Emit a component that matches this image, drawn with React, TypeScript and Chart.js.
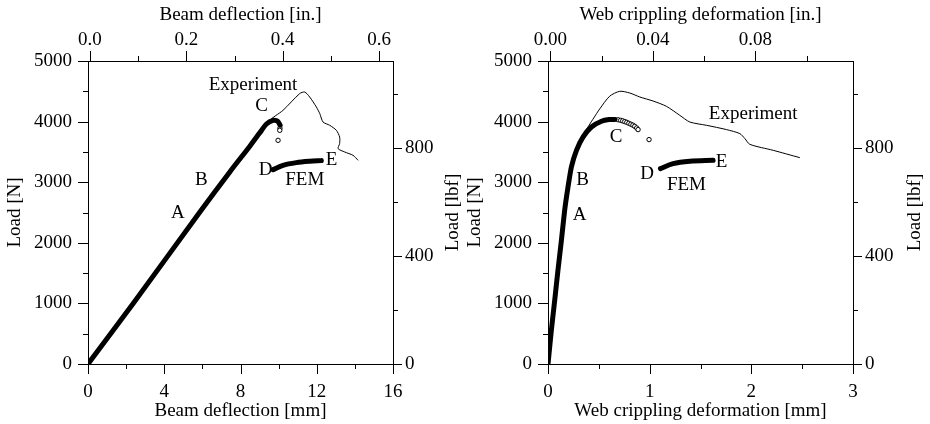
import React, { useEffect, useRef } from "react";
import { Chart, registerables } from "chart.js";

Chart.register(...registerables);

const FONT = '"Liberation Serif", "DejaVu Serif", "Times New Roman", serif';
const FONT_SIZE = 19;
const N_TO_LBF = 0.224809;
const N_MAX = 5000;

// ---------- Left panel: beam deflection ----------
const beamFemX = [0, 2.37, 5.86, 7.44, 8.48, 9.0, 9.36, 9.71, 9.95, 10.08];
const beamFemY = [0, 1000, 2503, 3170, 3590, 3810, 3960, 4021, 4005, 3940];
const beamFemCircX = [10.07, 10.06, 9.97];
const beamFemCircY = [3890, 3856, 3691];
const beamFemDEX = [9.71, 10.23, 10.93, 11.63, 12.24];
const beamFemDEY = [3207, 3279, 3323, 3345, 3356];
const beamExpX = [0, 9.44, 10.23, 11.1, 11.37, 11.63, 11.98, 12.16, 12.33, 12.68, 13.03, 13.2, 13.2, 13.12, 13.47, 13.9, 14.17];
const beamExpY = [0, 3993, 4186, 4461, 4488, 4406, 4241, 4131, 3993, 3939, 3856, 3746, 3637, 3554, 3498, 3444, 3361];

const beamXMajor = [0, 4, 8, 12, 16];
const beamXMinor = [2, 6, 10, 14];
const beamTopMajor = [0, 0.2, 0.4, 0.6];
const beamTopLabels = ["0.0", "0.2", "0.4", "0.6"];
const beamTopMinor = [0.1, 0.3, 0.5];
const beamLabels = ["A", "B", "C", "D", "E", "FEM", "Experiment"];
const beamLabelX = [4.71, 5.95, 9.1, 9.32, 12.77, 11.37, 8.66];
const beamLabelY = [2487, 3031, 4252, 3196, 3372, 3031, 4599];

// ---------- Right panel: web crippling deformation ----------
const webFemX = [0, 0.033, 0.066, 0.098, 0.132, 0.164, 0.197, 0.23, 0.28, 0.344, 0.427, 0.526, 0.6, 0.66];
const webFemY = [0, 556, 1051, 1546, 2041, 2536, 2921, 3251, 3526, 3745, 3911, 4005, 4033, 4035];
const webFemCircX = [0.69, 0.715, 0.735, 0.755, 0.775, 0.795, 0.815, 0.835, 0.853, 0.872, 0.886, 0.994];
const webFemCircY = [4030, 4021, 4012, 4000, 3988, 3972, 3957, 3942, 3922, 3895, 3868, 3703];
const webFemDEX = [1.106, 1.23, 1.395, 1.624];
const webFemDEY = [3224, 3306, 3345, 3361];
const webExpX = [0, 0.098, 0.197, 0.28, 0.344, 0.4, 0.45, 0.509, 0.607, 0.706, 0.804, 0.903, 1.033, 1.165, 1.296, 1.395, 1.559, 1.756, 1.887, 1.937, 1.985, 2.215, 2.477];
const webExpY = [0, 1546, 2921, 3540, 3770, 3930, 4060, 4210, 4420, 4500, 4472, 4406, 4340, 4252, 4104, 3993, 3939, 3868, 3802, 3719, 3625, 3526, 3405];

const webXMajor = [0, 1, 2, 3];
const webXMinor = [0.5, 1.5, 2.5];
const webTopMajor = [0, 0.04, 0.08];
const webTopLabels = ["0.00", "0.04", "0.08"];
const webTopMinor = [0.02, 0.06, 0.1];
const webLabels = ["A", "B", "C", "D", "E", "FEM", "Experiment"];
const webLabelX = [0.311, 0.339, 0.67, 0.974, 1.707, 1.362, 2.018];
const webLabelY = [2454, 3031, 3746, 3141, 3333, 2949, 4131];

// ---------- Shared load axes ----------
const loadMajor = [0, 1000, 2000, 3000, 4000, 5000];
const loadMinor = [500, 1500, 2500, 3500, 4500];
const lbfMajor = [0, 400, 800];
const lbfMinor = [200, 600, 1000];

type PanelDef = {
  width: number;
  left: number;
  rightAxisWidth: number;
  rightTitleOffset: number;
  xTitle: string;
  topTitle: string;
  xMax: number;
  topMin: number;
  topMax: number;
  xMajor: number[];
  xMinor: number[];
  topMajor: number[];
  topLabels: string[];
  topMinor: number[];
  femX: number[];
  femY: number[];
  circX: number[];
  circY: number[];
  deX: number[];
  deY: number[];
  expX: number[];
  expY: number[];
  labels: string[];
  labelX: number[];
  labelY: number[];
};

const panels: PanelDef[] = [
  {
    width: 465, left: 0, rightAxisWidth: 72, rightTitleOffset: 12,
    xTitle: "Beam deflection [mm]", topTitle: "Beam deflection [in.]",
    xMax: 16, topMin: -0.00415, topMax: 0.629,
    xMajor: beamXMajor, xMinor: beamXMinor, topMajor: beamTopMajor, topLabels: beamTopLabels, topMinor: beamTopMinor,
    femX: beamFemX, femY: beamFemY, circX: beamFemCircX, circY: beamFemCircY,
    deX: beamFemDEX, deY: beamFemDEY, expX: beamExpX, expY: beamExpY,
    labels: beamLabels, labelX: beamLabelX, labelY: beamLabelY,
  },
  {
    width: 470, left: 460, rightAxisWidth: 77, rightTitleOffset: 15,
    xTitle: "Web crippling deformation [mm]", topTitle: "Web crippling deformation [in.]",
    xMax: 3, topMin: -0.0009, topMax: 0.1181,
    xMajor: webXMajor, xMinor: webXMinor, topMajor: webTopMajor, topLabels: webTopLabels, topMinor: webTopMinor,
    femX: webFemX, femY: webFemY, circX: webFemCircX, circY: webFemCircY,
    deX: webFemDEX, deY: webFemDEY, expX: webExpX, expY: webExpY,
    labels: webLabels, labelX: webLabelX, labelY: webLabelY,
  },
];

const pts = (xs: number[], ys: number[]) => xs.map((x, i) => ({ x, y: ys[i] }));

function makeTickPlugin(p: PanelDef) {
  return {
    id: "tickMarks",
    afterDraw(chart: any) {
      const ctx = chart.ctx as CanvasRenderingContext2D;
      const ca = chart.chartArea;
      ctx.save();
      ctx.strokeStyle = "#000";
      ctx.lineWidth = 1;
      const specs: [string, number[], number][] = [
        ["x", p.xMajor, 10], ["x", p.xMinor, 5],
        ["xTop", p.topMajor, 10], ["xTop", p.topMinor, 5],
        ["y", loadMajor, 10], ["y", loadMinor, 5],
        ["yRight", lbfMajor, 9], ["yRight", lbfMinor, 5],
      ];
      for (const [id, vals, len] of specs) {
        const s = chart.scales[id];
        for (const v of vals) {
          const px = Math.round(s.getPixelForValue(v)) + 0.5;
          ctx.beginPath();
          if (id === "x") { ctx.moveTo(px, ca.bottom); ctx.lineTo(px, ca.bottom + len); }
          else if (id === "xTop") { ctx.moveTo(px, ca.top); ctx.lineTo(px, ca.top - len); }
          else if (id === "y") { ctx.moveTo(ca.left, px); ctx.lineTo(ca.left - len, px); }
          else { ctx.moveTo(ca.right, px); ctx.lineTo(ca.right + len, px); }
          ctx.stroke();
        }
      }
      // right-hand axis title, reading bottom-to-top like the left one
      ctx.fillStyle = "#000";
      ctx.font = `${FONT_SIZE}px ${FONT}`;
      ctx.textAlign = "center";
      ctx.textBaseline = "middle";
      ctx.translate(chart.width - p.rightTitleOffset, (ca.top + ca.bottom) / 2);
      ctx.rotate(-Math.PI / 2);
      ctx.fillText("Load [lbf]", 0, 0);
      ctx.restore();
    },
  };
}

function makeLabelPlugin(p: PanelDef) {
  return {
    id: "textLabels",
    afterDatasetsDraw(chart: any) {
      const ctx = chart.ctx as CanvasRenderingContext2D;
      const sx = chart.scales.x;
      const sy = chart.scales.y;
      ctx.save();
      ctx.fillStyle = "#000";
      ctx.font = `${FONT_SIZE}px ${FONT}`;
      ctx.textAlign = "center";
      ctx.textBaseline = "middle";
      p.labels.forEach((t, i) => {
        ctx.fillText(t, sx.getPixelForValue(p.labelX[i]), sy.getPixelForValue(p.labelY[i]));
      });
      ctx.restore();
    },
  };
}

function buildConfig(p: PanelDef): any {
  const font = { family: FONT, size: FONT_SIZE };
  const fixedTicks = (vals: number[]) => (scale: any) => {
    scale.ticks = vals.map((v) => ({ value: v }));
  };
  return {
    type: "scatter",
    data: {
      datasets: [
        {
          label: "FEM",
          data: pts(p.femX, p.femY),
          showLine: true,
          borderColor: "#000",
          borderWidth: 5,
          borderCapStyle: "round",
          borderJoinStyle: "round",
          pointRadius: 0,
          tension: 0.2,
          order: 1,
        },
        {
          label: "FEM post-peak",
          data: pts(p.circX, p.circY),
          showLine: false,
          borderColor: "#000",
          backgroundColor: "#fff",
          pointRadius: 2.2,
          pointBorderWidth: 1,
          order: 1,
        },
        {
          label: "FEM D-E",
          data: pts(p.deX, p.deY),
          showLine: true,
          borderColor: "#000",
          borderWidth: 5,
          borderCapStyle: "round",
          pointRadius: 0,
          tension: 0.3,
          order: 1,
        },
        {
          label: "Experiment",
          data: pts(p.expX, p.expY),
          showLine: true,
          borderColor: "#000",
          borderWidth: 1,
          pointRadius: 0,
          tension: 0.25,
          order: 2,
        },
      ],
    },
    options: {
      animation: false,
      responsive: false,
      events: [],
      layout: { padding: 0 },
      plugins: { legend: { display: false }, tooltip: { enabled: false }, title: { display: false } },
      scales: {
        x: {
          type: "linear", position: "bottom", min: 0, max: p.xMax,
          afterBuildTicks: fixedTicks(p.xMajor),
          afterFit: (s: any) => { s.height = 60; },
          grid: { display: false, drawTicks: false },
          border: { display: true, color: "#000", width: 1 },
          ticks: { color: "#000", font, padding: 17, autoSkip: false, maxRotation: 0, callback: (v: number) => String(v) },
          title: { display: true, text: p.xTitle, color: "#000", font, padding: { top: 0, bottom: 2 } },
        },
        xTop: {
          type: "linear", position: "top", min: p.topMin, max: p.topMax,
          afterBuildTicks: fixedTicks(p.topMajor),
          afterFit: (s: any) => { s.height = 61; },
          grid: { display: false, drawTicks: false },
          border: { display: true, color: "#000", width: 1 },
          ticks: {
            color: "#000", font, padding: 10, autoSkip: false, maxRotation: 0,
            callback: (_v: number, i: number) => p.topLabels[i],
          },
          title: { display: true, text: p.topTitle, color: "#000", font, padding: { top: 4, bottom: 0 } },
        },
        y: {
          type: "linear", position: "left", min: 0, max: N_MAX,
          afterBuildTicks: fixedTicks(loadMajor),
          afterFit: (s: any) => { s.width = 88; },
          grid: { display: false, drawTicks: false },
          border: { display: true, color: "#000", width: 1 },
          ticks: { color: "#000", font, padding: 16, autoSkip: false, callback: (v: number) => String(v) },
          title: { display: true, text: "Load [N]", color: "#000", font, padding: { top: 4, bottom: 0 } },
        },
        yRight: {
          type: "linear", position: "right", min: 0, max: N_MAX * N_TO_LBF,
          afterBuildTicks: fixedTicks(lbfMajor),
          afterFit: (s: any) => { s.width = p.rightAxisWidth; },
          grid: { display: false, drawTicks: false },
          border: { display: true, color: "#000", width: 1 },
          ticks: { color: "#000", font, padding: 12, autoSkip: false, callback: (v: number) => String(v) },
          title: { display: false },
        },
      },
    },
    plugins: [makeTickPlugin(p), makeLabelPlugin(p)],
  };
}

function PanelChart({ p }: { p: PanelDef }) {
  const ref = useRef<HTMLCanvasElement | null>(null);
  useEffect(() => {
    if (!ref.current) return;
    const chart = new Chart(ref.current, buildConfig(p));
    return () => chart.destroy();
  }, [p]);
  return (
    <canvas
      ref={ref}
      width={p.width}
      height={424}
      style={{ position: "absolute", left: p.left, top: 0, width: p.width, height: 424, display: "block" }}
    />
  );
}

export default function App() {
  return (
    <div style={{ position: "absolute", left: 0, top: 0, width: 930, height: 424, background: "#fff", overflow: "hidden" }}>
      {panels.map((p, i) => (
        <PanelChart key={i} p={p} />
      ))}
    </div>
  );
}
